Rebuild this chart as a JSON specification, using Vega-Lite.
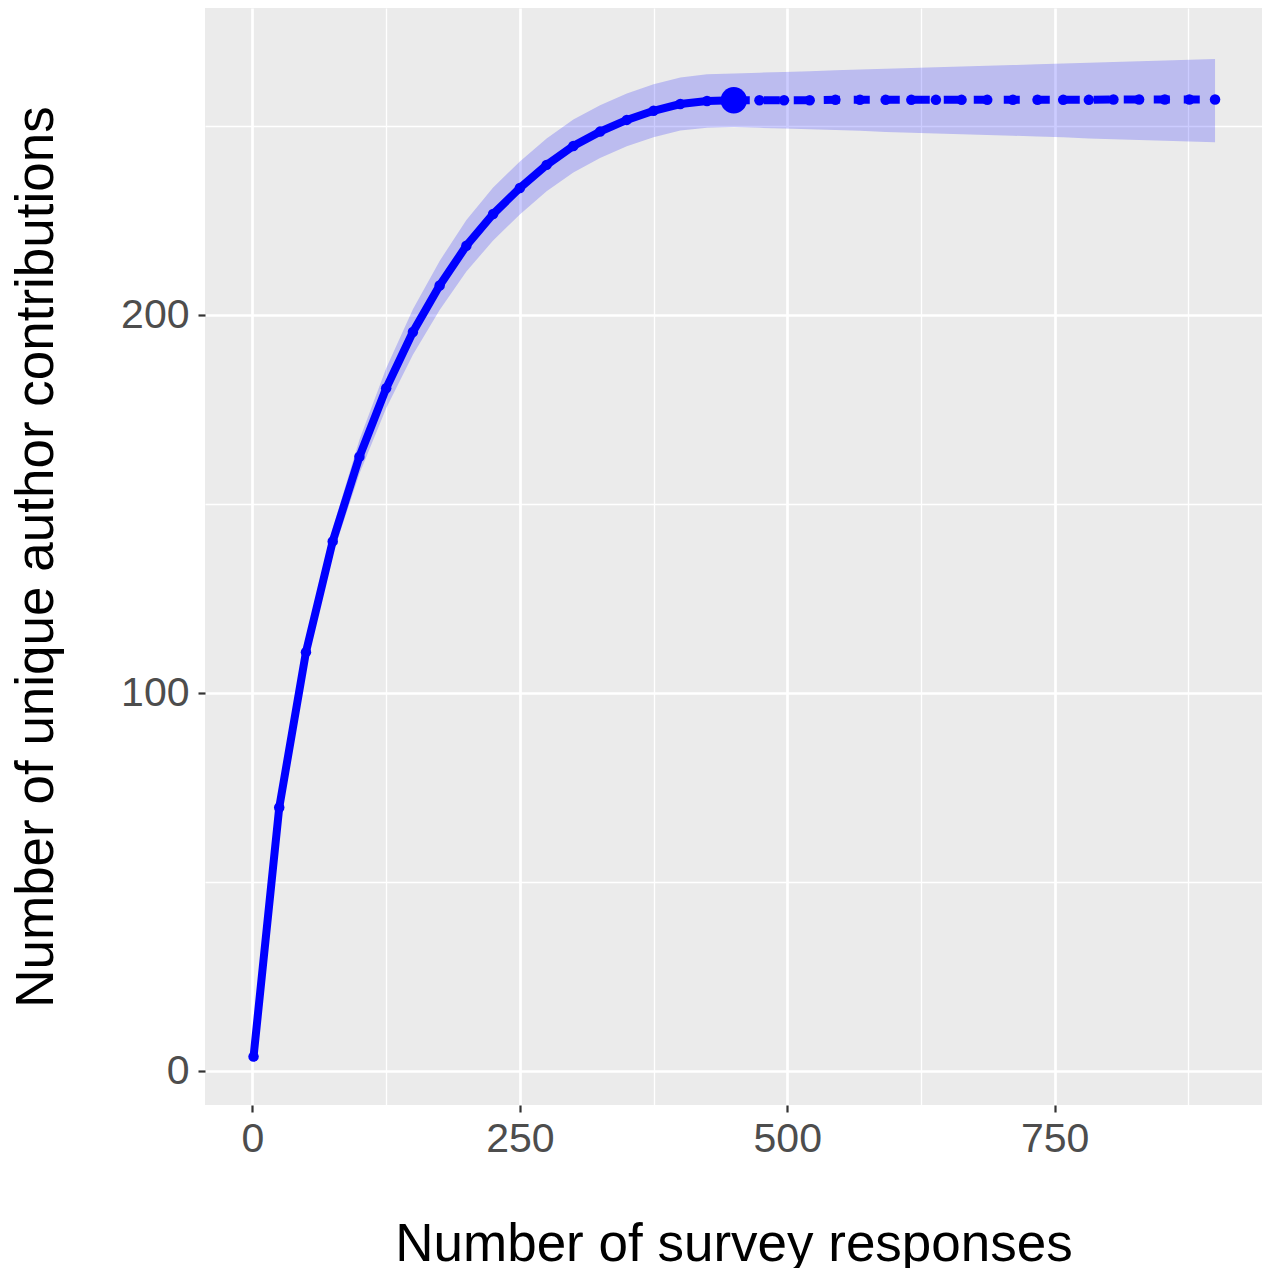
{
  "$schema": "https://vega.github.io/schema/vega-lite/v6.json",
  "width": 1057,
  "height": 1097,
  "autosize": "none",
  "padding": {"left": 205, "top": 8, "right": 5, "bottom": 163},
  "background": "white",
  "config": {
    "view": {"fill": "#EBEBEB", "stroke": null},
    "font": "Liberation Sans"
  },
  "data": {
    "values": [
      {"m": 1, "qD": 3.9, "lcl": 3.6, "ucl": 4.2, "method": "Rarefaction"},
      {"m": 25, "qD": 69.8, "lcl": 68.3, "ucl": 71.3, "method": "Rarefaction"},
      {"m": 50, "qD": 110.9, "lcl": 108.4, "ucl": 113.4, "method": "Rarefaction"},
      {"m": 75, "qD": 140.2, "lcl": 136.7, "ucl": 143.7, "method": "Rarefaction"},
      {"m": 100, "qD": 162.6, "lcl": 158.1, "ucl": 167.1, "method": "Rarefaction"},
      {"m": 125, "qD": 180.7, "lcl": 175.4, "ucl": 186.0, "method": "Rarefaction"},
      {"m": 150, "qD": 195.6, "lcl": 189.6, "ucl": 201.6, "method": "Rarefaction"},
      {"m": 175, "qD": 207.9, "lcl": 201.4, "ucl": 214.4, "method": "Rarefaction"},
      {"m": 200, "qD": 218.4, "lcl": 211.6, "ucl": 225.2, "method": "Rarefaction"},
      {"m": 225, "qD": 226.8, "lcl": 219.8, "ucl": 233.8, "method": "Rarefaction"},
      {"m": 250, "qD": 233.7, "lcl": 226.7, "ucl": 240.7, "method": "Rarefaction"},
      {"m": 275, "qD": 239.8, "lcl": 232.8, "ucl": 246.8, "method": "Rarefaction"},
      {"m": 300, "qD": 244.8, "lcl": 237.8, "ucl": 251.8, "method": "Rarefaction"},
      {"m": 325, "qD": 248.6, "lcl": 241.6, "ucl": 255.6, "method": "Rarefaction"},
      {"m": 350, "qD": 251.7, "lcl": 244.7, "ucl": 258.7, "method": "Rarefaction"},
      {"m": 375, "qD": 254.1, "lcl": 247.1, "ucl": 261.1, "method": "Rarefaction"},
      {"m": 400, "qD": 255.9, "lcl": 248.9, "ucl": 262.9, "method": "Rarefaction"},
      {"m": 425, "qD": 256.7, "lcl": 249.6, "ucl": 263.8, "method": "Rarefaction"},
      {"m": 450, "qD": 256.9, "lcl": 249.8, "ucl": 264.0, "method": "Observed"},
      {"m": 474, "qD": 256.9, "lcl": 249.6, "ucl": 264.2, "method": "Extrapolation"},
      {"m": 497, "qD": 256.9, "lcl": 249.4, "ucl": 264.4, "method": "Extrapolation"},
      {"m": 521, "qD": 256.9, "lcl": 249.2, "ucl": 264.6, "method": "Extrapolation"},
      {"m": 545, "qD": 257.0, "lcl": 249.0, "ucl": 264.8, "method": "Extrapolation"},
      {"m": 568, "qD": 257.0, "lcl": 248.8, "ucl": 265.0, "method": "Extrapolation"},
      {"m": 592, "qD": 257.0, "lcl": 248.5, "ucl": 265.2, "method": "Extrapolation"},
      {"m": 616, "qD": 257.0, "lcl": 248.3, "ucl": 265.4, "method": "Extrapolation"},
      {"m": 639, "qD": 257.0, "lcl": 248.1, "ucl": 265.6, "method": "Extrapolation"},
      {"m": 663, "qD": 257.0, "lcl": 247.9, "ucl": 265.8, "method": "Extrapolation"},
      {"m": 687, "qD": 257.0, "lcl": 247.7, "ucl": 266.0, "method": "Extrapolation"},
      {"m": 711, "qD": 257.0, "lcl": 247.5, "ucl": 266.2, "method": "Extrapolation"},
      {"m": 734, "qD": 257.0, "lcl": 247.3, "ucl": 266.4, "method": "Extrapolation"},
      {"m": 758, "qD": 257.0, "lcl": 247.1, "ucl": 266.6, "method": "Extrapolation"},
      {"m": 782, "qD": 257.0, "lcl": 246.8, "ucl": 266.8, "method": "Extrapolation"},
      {"m": 805, "qD": 257.1, "lcl": 246.6, "ucl": 267.0, "method": "Extrapolation"},
      {"m": 829, "qD": 257.1, "lcl": 246.4, "ucl": 267.2, "method": "Extrapolation"},
      {"m": 853, "qD": 257.1, "lcl": 246.2, "ucl": 267.4, "method": "Extrapolation"},
      {"m": 876, "qD": 257.1, "lcl": 246.0, "ucl": 267.6, "method": "Extrapolation"},
      {"m": 900, "qD": 257.1, "lcl": 245.8, "ucl": 267.8, "method": "Extrapolation"}
    ]
  },
  "encoding": {
    "x": {
      "field": "m",
      "type": "quantitative",
      "scale": {"domain": [-44.4, 943.9], "nice": false, "zero": false},
      "axis": {
        "values": [0, 125, 250, 375, 500, 625, 750, 875],
        "labelExpr": "datum.value % 250 === 0 ? datum.label : ''",
        "domain": false,
        "grid": true,
        "gridColor": "#FFFFFF",
        "gridWidth": {"condition": {"test": "datum.value % 250 === 0", "value": 2.7}, "value": 1.35},
        "tickColor": "#333333",
        "tickWidth": 2.2,
        "tickSize": 7,
        "tickOpacity": {"condition": {"test": "datum.value % 250 === 0", "value": 1}, "value": 0},
        "labelFontSize": 41,
        "labelColor": "#4D4D4D",
        "labelFont": "Liberation Sans",
        "labelBaseline": "alphabetic",
        "labelPadding": 39.7,
        "labelFlush": false,
        "labelOverlap": false,
        "title": "Number of survey responses",
        "titleFont": "Liberation Sans",
        "titleFontSize": 53,
        "titleFontWeight": "normal",
        "titleColor": "#000000",
        "titleBaseline": "alphabetic",
        "titleAnchor": "middle",
        "titleX": 528.5,
        "titleY": 155
      }
    },
    "y": {
      "type": "quantitative",
      "scale": {"domain": [-8.9, 281.3], "nice": false, "zero": false},
      "axis": {
        "values": [0, 50, 100, 150, 200, 250],
        "labelExpr": "datum.value % 100 === 0 ? datum.label : ''",
        "domain": false,
        "grid": true,
        "gridColor": "#FFFFFF",
        "gridWidth": {"condition": {"test": "datum.value % 100 === 0", "value": 2.7}, "value": 1.35},
        "tickColor": "#333333",
        "tickWidth": 2.2,
        "tickSize": 7,
        "tickOpacity": {"condition": {"test": "datum.value % 100 === 0", "value": 1}, "value": 0},
        "labelFontSize": 41,
        "labelColor": "#4D4D4D",
        "labelFont": "Liberation Sans",
        "labelPadding": 9,
        "labelFlush": false,
        "labelOverlap": false,
        "title": "Number of unique author contributions",
        "titleFont": "Liberation Sans",
        "titleFontSize": 53,
        "titleFontWeight": "normal",
        "titleColor": "#000000",
        "titleAngle": -90,
        "titleBaseline": "alphabetic",
        "titleAlign": "center",
        "titleX": -153,
        "titleY": 548.5
      }
    }
  },
  "layer": [
    {
      "mark": {"type": "area", "color": "#0000FF", "opacity": 0.2},
      "encoding": {
        "y": {"field": "lcl", "type": "quantitative", "title": "Number of unique author contributions"},
        "y2": {"field": "ucl"}
      }
    },
    {
      "transform": [{"filter": "datum.method !== 'Extrapolation'"}],
      "mark": {"type": "line", "color": "#0000FF", "strokeWidth": 8, "strokeCap": "butt"},
      "encoding": {"y": {"field": "qD", "type": "quantitative"}}
    },
    {
      "transform": [{"filter": "datum.method !== 'Rarefaction'"}],
      "mark": {"type": "line", "color": "#0000FF", "strokeWidth": 8, "strokeCap": "butt", "strokeDash": [16, 14]},
      "encoding": {"y": {"field": "qD", "type": "quantitative"}}
    },
    {
      "transform": [{"filter": "datum.method !== 'Observed'"}],
      "mark": {"type": "point", "filled": true, "shape": "circle", "color": "#0000FF", "opacity": 1, "size": 110},
      "encoding": {"y": {"field": "qD", "type": "quantitative"}}
    },
    {
      "transform": [{"filter": "datum.method === 'Observed'"}],
      "mark": {"type": "point", "filled": true, "shape": "circle", "color": "#0000FF", "opacity": 1, "size": 700},
      "encoding": {"y": {"field": "qD", "type": "quantitative"}}
    }
  ]
}
